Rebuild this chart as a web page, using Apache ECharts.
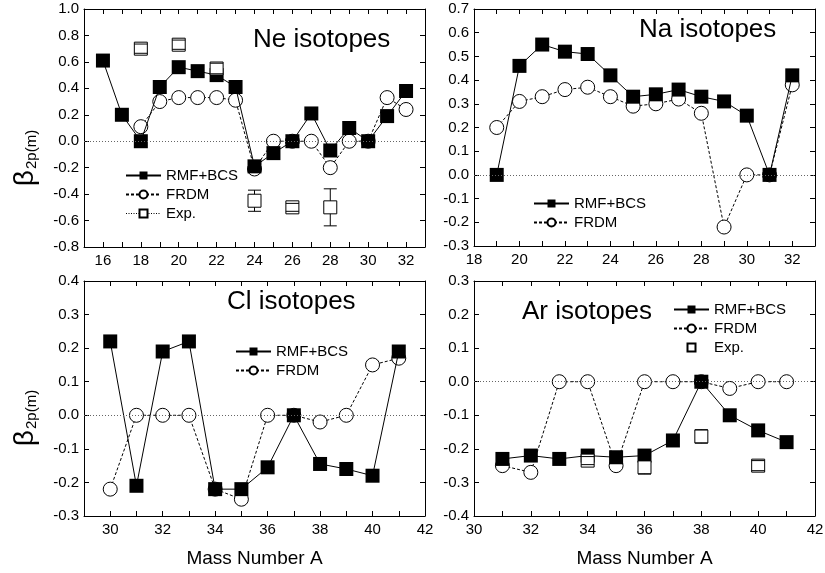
<!DOCTYPE html>
<html>
<head>
<meta charset="utf-8">
<script src="https://cdn.jsdelivr.net/npm/echarts@6/dist/echarts.min.js"></script>
<style>html,body{margin:0;padding:0;background:#fff}</style>
</head>
<body>
<div id="container" style="width:825px;height:573px"></div>
<script>
// Ne isotopes
var neA = [16, 17, 18, 19, 20, 21, 22, 23, 24, 25, 26, 27, 28, 29, 30, 31, 32];
var neRmf = [0.61, 0.20, 0.00, 0.41, 0.56, 0.53, 0.50, 0.41, -0.19, -0.09, 0.00, 0.21, -0.07, 0.10, 0.00, 0.19, 0.38];
var neFrdmA = [18, 19, 20, 21, 22, 23, 24, 25, 26, 27, 28, 29, 30, 31, 32];
var neFrdm = [0.11, 0.30, 0.33, 0.33, 0.33, 0.31, -0.21, 0.00, 0.00, 0.00, -0.20, 0.00, 0.00, 0.33, 0.24];
var neExpA = [18, 20, 22, 24, 26, 28];
var neExp = [0.70, 0.73, 0.55, -0.45, -0.50, -0.50];
var neExpErr = [0.035, 0.035, 0.04, 0.08, 0.03, 0.14];

// Na isotopes
var naA = [19, 20, 21, 22, 23, 24, 25, 26, 27, 28, 29, 30, 31, 32];
var naRmf = [0.00, 0.46, 0.55, 0.52, 0.51, 0.42, 0.33, 0.34, 0.36, 0.33, 0.31, 0.25, 0.00, 0.42];
var naFrdm = [0.20, 0.31, 0.33, 0.36, 0.37, 0.33, 0.29, 0.30, 0.32, 0.26, -0.22, 0.00, 0.00, 0.38];

// Cl isotopes
var clA = [30, 31, 32, 33, 34, 35, 36, 37, 38, 39, 40, 41];
var clRmf = [0.22, -0.21, 0.19, 0.22, -0.22, -0.22, -0.155, 0.00, -0.145, -0.16, -0.18, 0.19];
var clFrdm = [-0.22, 0.00, 0.00, 0.00, -0.22, -0.25, 0.00, 0.00, -0.02, 0.00, 0.15, 0.17];

// Ar isotopes
var arA = [31, 32, 33, 34, 35, 36, 37, 38, 39, 40, 41];
var arRmf = [-0.23, -0.22, -0.23, -0.22, -0.225, -0.22, -0.175, 0.00, -0.10, -0.145, -0.18];
var arFrdm = [-0.25, -0.27, 0.00, 0.00, -0.25, 0.00, 0.00, 0.00, -0.02, 0.00, 0.00];
var arExpA = [34, 36, 38, 40];
var arExp = [-0.235, -0.255, -0.163, -0.25];
var arExpErr = [0.012, 0.02, 0.02, 0.015];

var FONT = '"Liberation Sans", Arial, Helvetica, sans-serif';

function pairs(xs, ys) {
    return xs.map(function (x, i) { return [x, ys[i]]; });
}
function errRows(xs, ys, es) {
    return xs.map(function (x, i) { return [x, ys[i] - es[i], ys[i] + es[i]]; });
}

var panels = [
    { grid: { left: 84, top: 9, width: 341, height: 238 }, x: [15, 33], y: [-0.8, 1.0, 0.2],
      rmf: pairs(neA, neRmf), frdm: pairs(neFrdmA, neFrdm),
      exp: pairs(neExpA, neExp), err: errRows(neExpA, neExp, neExpErr),
      title: 'Ne isotopes', tx: 253, ty: 43,
      legend: { left: 120, top: 163 }, expLine: true },
    { grid: { left: 474, top: 9, width: 341, height: 237 }, x: [18, 33], y: [-0.3, 0.7, 0.1],
      rmf: pairs(naA, naRmf), frdm: pairs(naA, naFrdm),
      title: 'Na isotopes', tx: 639, ty: 33,
      legend: { left: 528, top: 191 } },
    { grid: { left: 84, top: 281, width: 341, height: 235 }, x: [29, 42], y: [-0.3, 0.4, 0.1],
      rmf: pairs(clA, clRmf), frdm: pairs(clA, clFrdm),
      title: 'Cl isotopes', tx: 227, ty: 305,
      legend: { left: 230, top: 339 }, xname: true },
    { grid: { left: 474, top: 281, width: 341, height: 235 }, x: [30, 42], y: [-0.4, 0.3, 0.1],
      rmf: pairs(arA, arRmf), frdm: pairs(arA, arFrdm),
      exp: pairs(arExpA, arExp), err: errRows(arExpA, arExp, arExpErr),
      title: 'Ar isotopes', tx: 522, ty: 315,
      legend: { left: 668, top: 297 }, expLine: false, xname: true }
];

var axisLine = { show: true, onZero: false, lineStyle: { color: '#000', width: 1 } };
var tick = { show: true, inside: true, length: 5, lineStyle: { color: '#000', width: 1 } };
var grids = [], xAxes = [], yAxes = [], series = [], legends = [], graphics = [];

function stemItem(params, api) {
    var x = api.value(0);
    var lo = api.coord([x, api.value(1)]);
    var hi = api.coord([x, api.value(2)]);
    return { type: 'line', shape: { x1: lo[0], y1: lo[1], x2: hi[0], y2: hi[1] },
             style: { stroke: '#000', lineWidth: 1 } };
}
function capItem(params, api) {
    var x = api.value(0);
    var lo = api.coord([x, api.value(1)]);
    var hi = api.coord([x, api.value(2)]);
    var w = 6.5;
    return { type: 'group', children: [
        { type: 'line', shape: { x1: lo[0] - w, y1: lo[1], x2: lo[0] + w, y2: lo[1] }, style: { stroke: '#000', lineWidth: 1 } },
        { type: 'line', shape: { x1: hi[0] - w, y1: hi[1], x2: hi[0] + w, y2: hi[1] }, style: { stroke: '#000', lineWidth: 1 } }
    ] };
}

panels.forEach(function (p, i) {
    grids.push(Object.assign({ containLabel: false, outerBoundsMode: 'none' }, p.grid));
    var xb = {
        type: 'value', gridIndex: i, position: 'bottom', min: p.x[0], max: p.x[1], interval: 1,
        axisLine: axisLine, axisTick: tick, splitLine: { show: false },
        axisLabel: { interval: 0, margin: 6, color: '#000', fontSize: 15, fontFamily: FONT,
            showMinLabel: true, showMaxLabel: true,
            formatter: function (v) { return v % 2 === 0 ? String(v) : ''; } }
    };
    if (p.xname) {
        xb.name = 'Mass Number A';
        xb.nameLocation = 'middle';
        xb.nameGap = 33;
        xb.nameTextStyle = { color: '#000', fontSize: 19, fontFamily: FONT };
    }
    xAxes.push(xb);
    xAxes.push({
        type: 'value', gridIndex: i, position: 'top', min: p.x[0], max: p.x[1], interval: 1,
        axisLine: axisLine, axisTick: tick, splitLine: { show: false }, axisLabel: { show: false }
    });
    yAxes.push({
        type: 'value', gridIndex: i, position: 'left', min: p.y[0], max: p.y[1], interval: p.y[2],
        axisLine: axisLine, axisTick: tick, splitLine: { show: false },
        axisLabel: { margin: 5, color: '#000', fontSize: 15, fontFamily: FONT,
            formatter: function (v) { return Math.abs(v) < 1e-9 ? '0.0' : v.toFixed(1); } }
    });
    yAxes.push({
        type: 'value', gridIndex: i, position: 'right', min: p.y[0], max: p.y[1], interval: p.y[2],
        axisLine: axisLine, axisTick: tick, splitLine: { show: false }, axisLabel: { show: false }
    });

    var xi = 2 * i, yi = 2 * i;
    series.push({
        name: 'FRDM', type: 'line', xAxisIndex: xi, yAxisIndex: yi, data: p.frdm, z: 2,
        symbol: 'circle', symbolSize: 14,
        itemStyle: { color: '#fff', borderColor: '#000', borderWidth: 1 },
        lineStyle: { color: '#000', width: 1, type: [3, 2] },
        emphasis: { disabled: true },
        markLine: { silent: true, symbol: ['none', 'none'], label: { show: false },
            lineStyle: { color: '#666', width: 1, type: [1, 2] }, data: [{ yAxis: 0 }] }
    });
    series.push({
        name: 'RMF+BCS', type: 'line', xAxisIndex: xi, yAxisIndex: yi, data: p.rmf, z: 3,
        symbol: 'rect', symbolSize: 14,
        itemStyle: { color: '#000' },
        lineStyle: { color: '#000', width: 1 },
        emphasis: { disabled: true }
    });
    var names = ['RMF+BCS', 'FRDM'];
    if (p.exp) {
        series.push({
            type: 'custom', xAxisIndex: xi, yAxisIndex: yi, data: p.err, z: 4,
            renderItem: stemItem, silent: true
        });
        series.push({
            name: 'Exp.', type: 'line', xAxisIndex: xi, yAxisIndex: yi, data: p.exp, z: 5,
            symbol: 'rect', symbolSize: 13,
            itemStyle: { color: '#fff', borderColor: '#000', borderWidth: 1 },
            lineStyle: { color: '#000', width: 1, opacity: 0, type: [1, 1.5] },
            emphasis: { disabled: true }
        });
        series.push({
            type: 'custom', xAxisIndex: xi, yAxisIndex: yi, data: p.err, z: 6,
            renderItem: capItem, silent: true
        });
        names.push(p.expLine
            ? { name: 'Exp.', lineStyle: { opacity: 1, color: '#000', width: 1, type: [1, 1.5] } }
            : { name: 'Exp.', lineStyle: { opacity: 0 } });
    }
    legends.push({
        orient: 'vertical', left: p.legend.left, top: p.legend.top,
        itemWidth: 35, itemHeight: 10, itemGap: 4, selectedMode: false,
        textStyle: { color: '#000', fontSize: 15, fontFamily: FONT },
        data: names
    });
    graphics.push({
        type: 'text', left: p.tx, top: p.ty - 16, silent: true,
        style: { text: p.title, fill: '#000', fontSize: 26, fontFamily: FONT }
    });
});

// y axis titles
[158, 418].forEach(function (cy) {
    graphics.push({
        type: 'text', x: 25, y: cy, rotation: Math.PI / 2, silent: true,
        style: {
            text: '{b|β}{s|2p(m)}', align: 'center', verticalAlign: 'middle',
            rich: {
                b: { fontSize: 28, fontFamily: FONT, fill: '#000', verticalAlign: 'bottom' },
                s: { fontSize: 15, fontFamily: FONT, fill: '#000', verticalAlign: 'bottom', padding: [0, 0, 0, 1] }
            }
        }
    });
});

var chart = echarts.init(document.getElementById('container'));
chart.setOption({
    animation: false,
    backgroundColor: '#fff',
    grid: grids,
    xAxis: xAxes,
    yAxis: yAxes,
    legend: legends,
    graphic: graphics,
    series: series
});
</script>
</body>
</html>
